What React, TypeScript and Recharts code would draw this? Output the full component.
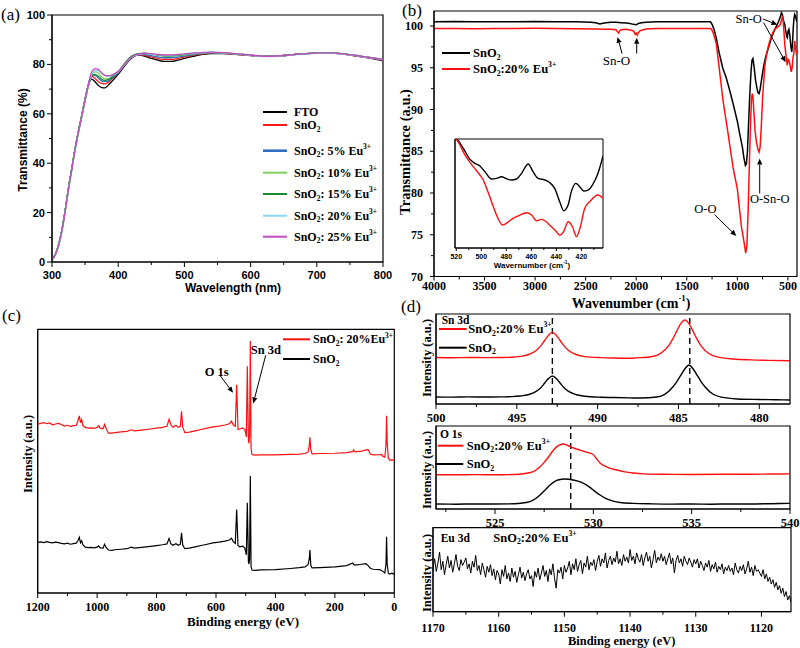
import React from 'react';
import { LineChart, Line, XAxis, YAxis, ReferenceLine, ReferenceDot, ReferenceArea } from 'recharts';

const SERIF = '"Liberation Serif","Times New Roman",serif';
const SANS = '"Liberation Sans",Arial,sans-serif';

// ---------------- (a) UV-vis transmittance ----------------
const aWavelength = [300,305,310,315,320,325,330,335,340,345,350,355,360,365,370,375,380,385,390,395,400,410,420,430,440,450,460,470,480,490,500,520,540,560,580,600,620,640,660,680,700,720,740,760,780,800];
const aFTO = [1,3,7,13,21,30,38,46,53,59,65.5,71.5,74,73,71.5,70.6,70.5,71.6,73,74.5,76,79.5,82.5,83.8,83.4,82.4,81.7,81.2,81.2,81.7,82.4,83.7,84.4,84.4,84,83.6,83.3,83.4,83.8,84.3,84.6,84.6,84.2,83.4,82.5,81.5];
const aSnO2 = [1,3,7,13,21,30,38,46,53,59.5,66,72,75.2,74.3,73,72.3,72.1,72.8,74,75.2,76.5,80,82.8,83.9,83.7,83,82.4,82,82,82.4,83,84,84.6,84.5,84.1,83.7,83.3,83.4,83.8,84.3,84.6,84.6,84.2,83.4,82.6,81.6];
const aEu5 = [1,3,7,13,21,30,38,46,53,59.5,66,72,75.8,75.5,74.5,73.3,73,73.3,74.3,75.4,76.6,80.2,83,84,84,83.5,83,82.7,82.7,83,83.4,84.2,84.7,84.6,84.2,83.7,83.3,83.4,83.8,84.3,84.6,84.7,84.3,83.5,82.7,81.8];
const aEu10 = [1,3,7,13,21,30,38,46,53,59.5,66,71.5,76,77,76.5,75,74.2,74.2,75,76,77,80.5,83.2,84.3,84.5,84.2,83.7,83.4,83.4,83.6,83.9,84.5,84.9,84.7,84.2,83.7,83.3,83.4,83.8,84.3,84.6,84.7,84.3,83.6,82.8,82];
const aEu15 = [1,3,7,13,21,30,38,46,53,59.5,66,71.8,75.5,76,75.2,74,73.5,73.8,74.8,76,77,80.5,83.3,84.4,84.6,84.3,83.8,83.5,83.5,83.7,84,84.6,84.9,84.7,84.2,83.7,83.3,83.4,83.8,84.3,84.6,84.7,84.3,83.6,82.8,82];
const aEu20 = [0.8,2.8,6.8,12.5,20.5,29.5,37.5,45.5,52.5,59,65.5,71.5,76,77.5,77.5,76.3,75.5,75.3,75.6,76.2,77,80,82.8,84,84.4,84.2,83.9,83.7,83.7,83.9,84.2,84.6,84.9,84.7,84.2,83.7,83.2,83.3,83.7,84.2,84.5,84.6,84.2,83.5,82.7,81.9];
const aEu25 = [0.8,2.8,6.8,12.5,20.5,29.5,37.5,45.5,52.5,59,65.5,71.5,77,78.3,78,76.6,75.6,75.4,75.7,76.3,77.2,80.3,83,84.2,84.5,84.4,84,83.8,83.8,84,84.3,84.7,85,84.8,84.3,83.8,83.3,83.4,83.8,84.3,84.6,84.7,84.3,83.6,82.8,82];
const aXTicks = [300,350,400,450,500,550,600,650,700,750,800];
const aXMajor = [300,400,500,600,700,800];
const aYTicks = [0,10,20,30,40,50,60,70,80,90,100];
const aYMajor = [0,20,40,60,80,100];

// ---------------- (b) FTIR ----------------
const bBlackX = [4000,3800,3600,3400,3200,3000,2800,2600,2450,2400,2360,2340,2300,2250,2200,2150,2100,2060,2030,2000,1980,1950,1900,1800,1600,1400,1300,1265,1250,1230,1207,1180,1145,1110,1076,1040,1000,977,950,935,920,910,900,890,878,865,855,846,835,820,805,795,785,775,760,740,720,700,680,660,640,613,590,575,564,555,545,531,520,510,505,498,490,480,470,462,455,447,440,433,425,418,411];
const bBlackT = [100.5,100.55,100.5,100.5,100.5,100.55,100.5,100.5,100.45,100.4,100.25,100.3,100.4,100.45,100.45,100.4,100.35,100.3,100.2,100.15,100.3,100.4,100.45,100.5,100.5,100.5,100.5,100.5,100.2,99.6,98.5,96.8,95.0,93.8,92.3,90.6,88.6,87.1,85.5,84.2,83.3,83.5,85,88,91.5,94.5,95.9,96.1,95.2,93.5,92.5,92,91.9,92.4,93.6,95.2,96.3,97.1,97.9,98.7,99.3,100,100.6,101.1,101.6,101.4,100.7,100.2,99.3,98.7,98.6,99.4,99.6,98.8,97.5,96.9,97.8,99.8,100.9,101.4,101.2,100.8,100.5];
const bRedX = [4000,3800,3600,3400,3200,3000,2800,2600,2400,2300,2250,2200,2185,2175,2165,2150,2100,2050,2025,2010,2000,1990,1980,1960,1930,1900,1800,1600,1400,1300,1265,1250,1230,1207,1175,1142,1100,1043,1000,960,935,917,905,893,880,868,860,852,846,838,825,810,795,785,775,765,750,729,710,680,650,630,600,580,565,555,548,540,531,520,507,498,490,480,467,458,450,442,433,425,418,411];
const bRedT = [99.7,99.7,99.68,99.7,99.7,99.72,99.7,99.68,99.65,99.6,99.6,99.55,99.3,99.15,99.4,99.55,99.6,99.5,99.4,99.0,99.15,98.9,99.2,99.45,99.55,99.65,99.7,99.7,99.7,99.7,99.7,99.5,98.9,97.8,94.5,91.1,87.8,83.1,80.5,76.0,74.2,72.8,73.8,78,84,89,91.3,91.9,91.6,90,87.5,86,85.2,84.9,85.5,87.5,91.5,95.1,96.7,98.2,99.2,99.6,99.9,100.1,100.6,101.1,100.8,99.5,97.8,96.6,95.3,96,95.9,95.4,94.5,95,96.2,96.7,98.2,97.4,96.8,97];
const bXTicks = [4000,3750,3500,3250,3000,2750,2500,2250,2000,1750,1500,1250,1000,750,500];
const bXMajor = [4000,3500,3000,2500,2000,1500,1000,500];
const bYTicks = [70,72.5,75,77.5,80,82.5,85,87.5,90,92.5,95,97.5,100];
const bYMajor = [70,75,80,85,90,95,100];

// inset of (b)
const insBlackX = [521,519.7,514.4,509.0,505.1,501.1,497.1,491.8,487.8,483.8,479.8,475.8,471.8,467.8,462.5,458.6,454.6,449.2,445.2,441.3,437.3,434.1,430.6,428.0,424.5,421.3,418.1,414.7,410.7,406.7,402.7];
const insBlackT = [100,99.7,91.4,81.3,77.7,75.2,70.0,63.3,63.9,65.4,63.6,62.4,63.3,68.5,77.1,70.0,63.9,62.4,59.9,54.7,42.5,34.2,39.4,51.7,59.3,56.3,52.3,53.2,58.7,68.5,84.4];
const insRedX = [521,519.7,513.0,506.4,501.1,498.4,495.2,491.8,487.8,482.9,479.3,475.8,470.5,463.8,459.8,455.9,451.9,449.2,443.9,439.9,437.3,434.1,430.6,427.1,423.9,420.8,417.3,413.3,406.7,402.7];
const insRedT = [100,99.1,85.3,74.6,67.0,62.4,53.2,42.5,30.3,21.1,23.2,26.3,29.4,32.4,30.3,25.0,26.3,25.0,19.5,15.0,11.9,15.0,24.1,19.5,10.4,19.5,36.4,42.5,48.6,45.6];
const insXTicks = [520,510,500,490,480,470,460,450,440,430,420,410];
const insXMajor = [520,500,480,460,440,420];

// ---------------- (c) XPS survey ----------------
const cBE = [1200,1190,1180,1170,1160,1150,1140,1130,1120,1110,1100,1090,1080,1070,1064,1060,1056,1052,1048,1040,1030,1020,1010,1000,995,990,980,975,970,962,950,940,920,900,885,875,850,820,800,780,765,758,752,745,735,727,720,716,712,705,690,670,650,630,610,590,570,555,548,542,535,530.5,526,520,510,503,498,494.6,491,489,487,484.5,482,479,470,450,400,350,320,300,290,286,284,281,277,250,200,160,140,137,132,110,95,88,80,70,50,43,38,32,28,26,24,20,15,8,0];
const cEu20 = [64,64.3,64.6,64.2,64.5,63.8,64.1,64.3,63.9,63.3,63.6,63.2,63.5,63.6,65.5,67.2,64.5,65.8,63.5,62.8,62.5,62.6,62.4,62.8,63.4,62.5,62.3,63.9,62.5,60.6,60.6,60.8,61.1,61.3,61.9,61.5,61.8,62.2,62.5,62.8,63.2,65.9,63.8,62.8,63.6,62.8,63.2,68.9,63,60.8,61,61.5,62,62.5,63,63.3,63.7,64.2,65.2,63.8,63.2,79,62,62.2,62.6,62,59.2,86,58,56.7,60,95.6,55,52.5,52.3,52.4,52.4,52.6,52.7,52.9,53.5,56,59,54.5,52.8,52.9,53,53.2,53.6,54.3,53.5,53.8,54.3,54.4,52.6,52.4,52.5,52.6,51.8,51.5,56,67.2,57,51,50.4,50.5,50.3];
const cSnO2 = [19.2,19.4,19.1,19.5,19.2,19,19.3,19.1,18.8,18.6,18.9,18.5,18.7,18.9,20,21.1,19,19.8,18.3,17.4,17.2,17.3,17.1,17.4,17.9,17.1,17,18.5,17.3,16.3,16.2,16.4,16.6,16.8,17.4,17,17.3,17.7,18,18.3,18.6,20.7,18.7,18.1,18.7,18.1,18.5,22.8,18.2,16.8,17,17.5,18,18.5,19,19.3,19.7,20.1,20.8,19.5,18.8,31.7,18,17.5,17.8,17,14.5,34.2,12,11,13,44.4,10,8.7,8.6,8.8,8.9,9.3,9.6,9.9,10.8,13,16.3,10.5,9.5,9.6,9.9,10.4,11.4,10.8,10.6,10.9,11.1,10.4,9.3,9,8.9,8.5,8.2,7.6,11,21.3,11,7.5,7.2,7.5,7];
const cXTicks = [1200,1100,1000,900,800,700,600,500,400,300,200,100,0];
const cXMajor = [1200,1000,800,600,400,200,0];

// ---------------- (d) high-resolution XPS ----------------
const snRedBE = [500,499,498,497,496,495.3,494.8,494.3,493.8,493.55,493.3,493.05,492.8,492.55,492.3,492.05,491.8,491.3,490.8,489.8,489,488,487.6,486.6,486.1,485.6,485.35,485.1,484.85,484.6,484.35,484.1,483.85,483.6,483.1,482.6,481.6,480.5,479.5,478.1];
const snRedI = [51.6,51.4,51.7,51.5,51.6,51.9,52.9,54.7,59.5,64,70,76.2,79.6,76.2,70,64,59.5,54.7,52.7,51.5,51.1,50.9,51.3,52.8,56.3,64.8,72.3,81.3,89.5,93.3,89.3,81,72,64.5,55.8,52.3,50,49,48.5,48];
const snBlackBE = [500,499,498,497,496,495.3,494.8,494.3,493.8,493.55,493.3,493.05,492.8,492.55,492.3,492.05,491.8,491.3,490.8,489.8,489,488,487.35,486.35,485.85,485.35,485.1,484.85,484.6,484.35,484.1,483.85,483.6,483.35,482.85,482.35,481.35,480,479,478.1];
const snBlackI = [7.8,7.6,7.9,7.7,7.9,8.2,8.9,10.3,14,17.5,22.7,28.2,31.1,28.2,22.7,17.5,14,10.3,8.6,7.5,7.2,6.8,6.6,7.8,10.8,18.9,24.9,32.2,39.2,43.3,39.2,32.2,24.9,18.9,10.8,7.6,5.6,5,4.7,4.4];
const snPeaks = [492.8, 484.3];
const snXTicks = [500,497.5,495,492.5,490,487.5,485,482.5,480];
const snXMajor = [500,495,490,485,480];

const oRedBE = [522,523,524,525,526,526.5,526.95,527.2,527.46,527.7,527.96,528.2,528.47,528.7,529,529.32,529.65,529.97,530.15,530.34,530.7,531.19,531.6,532.03,532.6,533.5,535,536.5,538,539,540];
const oRedI = [41.3,41.2,41.4,41.2,41.6,42.8,45,49,55,62,70.5,76,78.3,76.5,73.5,71,68.5,66,61,55.5,50.5,47,44.8,43.4,42.3,41.8,41.6,41.8,41.9,42.1,42.3];
const oBlackBE = [522,523,524,525,526,526.4,526.78,527.03,527.29,527.55,527.8,528.2,528.56,528.98,529.4,529.83,530.1,530.34,530.6,530.85,531.36,532.03,533,534,535,536,537,538,539,540];
const oBlackI = [6,5.8,6.1,6,6.3,7.2,8.8,12,16.9,23,28.9,34.9,36.1,34.9,32.1,26.1,21,16.9,13.2,10.8,7.9,6.8,6.2,5.9,6,5.8,6.1,6,6.4,6.8];
const oPeak = 528.85;
const oXTicks = [522.5,525,527.5,530,532.5,535,537.5,540];
const oXMajor = [525,530,535,540];

const euStartBE = 1170;
const euStepBE = 0.25;
const euIntensity = [
  52,63,48,58,71,50,60,44,56,66,52,61,47,57,68,54,49,62,55,59,
  64,51,57,46,60,53,67,49,55,44,58,50,41,54,47,56,43,51,38,49,
  45,33,50,42,55,39,46,36,52,41,48,35,44,53,40,47,37,45,50,39,
  43,30,48,41,52,38,46,55,42,49,36,51,44,57,40,28,50,46,53,39,
  55,47,52,60,44,57,50,63,48,56,61,45,58,53,66,50,59,55,62,49,
  60,67,54,63,58,70,52,61,66,56,64,59,72,57,63,55,68,60,65,58,
  74,61,66,57,70,63,59,68,55,64,71,60,66,52,62,73,58,65,61,69,
  60,66,56,63,70,57,64,46,61,67,58,63,54,66,60,56,64,59,53,62,
  57,63,52,60,55,49,58,53,61,48,56,51,59,47,54,50,57,45,53,49,
  55,48,52,44,58,50,46,54,49,56,45,51,60,47,53,43,55,48,50,46,
  42,50,39,45,36,41,33,38,29,35,26,31,22,28,18,24,14,19,11,
];
const euXTicks = [1170,1165,1160,1155,1150,1145,1140,1135,1130,1125,1120];
const euXMajor = [1170,1160,1150,1140,1130,1120];

// ---------------- helpers ----------------
type Part = [string, number];
const zip = (xs: number[], ys: number[]) => xs.map((x, i) => ({ x, y: ys[i] }));
const YW = 30; // y-axis band width
const XH = 20; // x-axis band height

function Rich({ x, y, parts, fs, ff = SERIF, fw = 'bold', anchor = 'start', rotate }: any) {
  let cur = 0;
  const spans = (parts as Part[]).map(([t, k], i) => {
    const off = k === 1 ? fs * 0.3 : k === 2 ? -fs * 0.38 : 0;
    const dy = off - cur;
    cur = off;
    return (
      <tspan key={i} dy={dy} fontSize={k ? fs * 0.62 : fs}>{t}</tspan>
    );
  });
  return (
    <text x={x} y={y} fontSize={fs} fontFamily={ff} fontWeight={fw} textAnchor={anchor}
      dominantBaseline="central" fill="#000" style={{ fontFamily: ff }}
      transform={rotate ? `rotate(${rotate} ${x} ${y})` : undefined}>{spans}</text>
  );
}

const sn2: Part[] = [['SnO', 0], ['2', 1]];
const snEu = (mid: string): Part[] => [['SnO', 0], ['2', 1], [mid, 0], ['3+', 2]];

function xTick(majors: number[], o: any) {
  return (p: any) => {
    const v = Number(p.payload.value);
    const major = majors.some((m) => Math.abs(m - v) < 1e-6);
    const len = major ? (o.len ?? 5) : (o.mlen ?? 3);
    return (
      <g>
        <line x1={p.x} x2={p.x} y1={p.y} y2={p.y + len} stroke="#000" strokeWidth={1} />
        {major && (
          <text x={p.x} y={p.y + o.off} textAnchor="middle" dominantBaseline="central"
            fontSize={o.fs} fontFamily={o.ff} fontWeight="bold" fill="#000" style={{ fontFamily: o.ff }}>{String(v)}</text>
        )}
      </g>
    );
  };
}
function yTick(majors: number[], o: any) {
  return (p: any) => {
    const v = Number(p.payload.value);
    const major = majors.some((m) => Math.abs(m - v) < 1e-6);
    const len = major ? (o.len ?? 5) : (o.mlen ?? 3);
    return (
      <g>
        <line x1={p.x - len} x2={p.x} y1={p.y} y2={p.y} stroke="#000" strokeWidth={1} />
        {major && (
          <text x={p.x - o.off} y={p.y} textAnchor="end" dominantBaseline="central"
            fontSize={o.fs} fontFamily={o.ff} fontWeight="bold" fill="#000" style={{ fontFamily: o.ff }}>{String(v)}</text>
        )}
      </g>
    );
  };
}

const ArrowShape = (p: any) => {
  const { x1, y1, x2, y2 } = p;
  const a = Math.atan2(y2 - y1, x2 - x1);
  const L = 6, W = 2.6;
  const bx = x2 - L * Math.cos(a), by = y2 - L * Math.sin(a);
  const pts = `${x2},${y2} ${bx - W * Math.sin(a)},${by + W * Math.cos(a)} ${bx + W * Math.sin(a)},${by - W * Math.cos(a)}`;
  return (
    <g>
      <line x1={x1} y1={y1} x2={bx} y2={by} stroke="#000" strokeWidth={1} />
      <polygon points={pts} fill="#000" />
    </g>
  );
};
const textShape = (label: string, fs: number, fw: any = 'normal', anchor = 'middle') => (p: any) => (
  <text x={p.cx} y={p.cy} fontSize={fs} fontFamily={SERIF} fontWeight={fw} textAnchor={anchor}
    dominantBaseline="central" fill="#000" style={{ fontFamily: SERIF }}>{label}</text>
);

const frameProps = { fill: 'none', fillOpacity: 0, stroke: '#000', strokeWidth: 1.2, ifOverflow: 'visible' as const };

const LegendRow = ({ x1, x2, y, color, tx, parts, fs, w = 2 }: any) => (
  <g>
    <line x1={x1} x2={x2} y1={y} y2={y} stroke={color} strokeWidth={w} />
    <Rich x={tx} y={y} parts={parts} fs={fs} />
  </g>
);

// ---------------- panels ----------------
const aData = aWavelength.map((x, i) => ({ x, fto: aFTO[i], sno2: aSnO2[i], eu5: aEu5[i], eu10: aEu10[i], eu15: aEu15[i], eu20: aEu20[i], eu25: aEu25[i] }));
const aSeries = [
  { key: 'fto', color: '#000000', label: [['FTO', 0]] as Part[], ly: 112, w: 2 },
  { key: 'sno2', color: '#ff1a1a', label: sn2, ly: 125, w: 2 },
  { key: 'eu5', color: '#2f6fbf', label: snEu(': 5% Eu'), ly: 150.7, w: 2.6 },
  { key: 'eu10', color: '#80d35c', label: snEu(': 10% Eu'), ly: 172.7, w: 2 },
  { key: 'eu15', color: '#1b8a32', label: snEu(': 15% Eu'), ly: 194, w: 2 },
  { key: 'eu20', color: '#8ad6ee', label: snEu(': 20% Eu'), ly: 215.7, w: 2 },
  { key: 'eu25', color: '#c04cc0', label: snEu(': 25% Eu'), ly: 236.7, w: 2 },
];

function PanelA() {
  return (
    <div style={{ position: 'absolute', left: 0, top: 0 }}>
      <LineChart width={400} height={300} data={aData} margin={{ top: 15, left: 52 - YW, right: 17, bottom: 38 - XH }}>
        <XAxis dataKey="x" type="number" domain={[300, 800]} allowDataOverflow ticks={aXTicks} interval={0}
          height={XH} tickSize={0} tickMargin={0} tickLine={false} axisLine={{ stroke: '#000' }}
          tick={xTick(aXMajor, { fs: 11, ff: SANS, off: 13 })} />
        <YAxis type="number" domain={[0, 100]} allowDataOverflow ticks={aYTicks} interval={0}
          width={YW} tickSize={0} tickMargin={0} tickLine={false} axisLine={{ stroke: '#000' }}
          tick={yTick(aYMajor, { fs: 11, ff: SANS, off: 7 })} />
        <ReferenceArea x1={300} x2={800} y1={0} y2={100} {...frameProps} />
        {aSeries.map((s) => (
          <Line key={s.key} dataKey={s.key} type="monotone" stroke={s.color} strokeWidth={1.3}
            dot={false} activeDot={false} isAnimationActive={false} />
        ))}
        {aSeries.map((s) => (
          <LegendRow key={'l' + s.key} x1={263} x2={287} y={s.ly} color={s.color} tx={294} parts={s.label} fs={12} w={s.w} />
        ))}
        <Rich x={233} y={288} parts={[['Wavelength (nm)', 0]]} fs={12} ff={SANS} anchor="middle" />
        <Rich x={22.5} y={140} parts={[['Transmittance (%)', 0]]} fs={12} ff={SANS} anchor="middle" rotate={-90} />
        <Rich x={1} y={14} parts={[['(a)', 0]]} fs={17} fw="normal" />
      </LineChart>
    </div>
  );
}

function PanelB() {
  return (
    <div style={{ position: 'absolute', left: 396, top: 0 }}>
      <LineChart width={404} height={320} margin={{ top: 11, left: 38 - YW, right: 3, bottom: 43.5 - XH }}>
        <XAxis dataKey="x" type="number" domain={[410, 4000]} reversed allowDataOverflow ticks={bXTicks} interval={0}
          height={XH} tickSize={0} tickMargin={0} tickLine={false} axisLine={{ stroke: '#000' }}
          tick={xTick(bXMajor, { fs: 12, ff: SERIF, off: 9.5, len: 4, mlen: 3 })} />
        <YAxis type="number" domain={[70, 101.8]} allowDataOverflow ticks={bYTicks} interval={0}
          width={YW} tickSize={0} tickMargin={0} tickLine={false} axisLine={{ stroke: '#000' }}
          tick={yTick(bYMajor, { fs: 12, ff: SERIF, off: 11, len: 4, mlen: 3 })} />
        <ReferenceArea x1={4000} x2={410} y1={70} y2={101.8} {...frameProps} />
        <Line data={zip(bBlackX, bBlackT)} dataKey="y" type="linear" stroke="#000" strokeWidth={1.5}
          dot={false} activeDot={false} isAnimationActive={false} />
        <Line data={zip(bRedX, bRedT)} dataKey="y" type="linear" stroke="#ff1010" strokeWidth={1.5}
          dot={false} activeDot={false} isAnimationActive={false} />
        <ReferenceDot x={2196} y={95.86} r={0} ifOverflow="visible" shape={textShape('Sn-O', 13)} />
        <ReferenceLine segment={[{ x: 2140, y: 96.7 }, { x: 2185, y: 98.7 }]} ifOverflow="visible" shape={ArrowShape} />
        <ReferenceLine segment={[{ x: 1995, y: 96.7 }, { x: 1995, y: 98.6 }]} ifOverflow="visible" shape={ArrowShape} />
        <ReferenceDot x={888} y={100.84} r={0} ifOverflow="visible" shape={textShape('Sn-O', 12.5)} />
        <ReferenceLine segment={[{ x: 746, y: 100.84 }, { x: 604, y: 100.16 }]} ifOverflow="visible" shape={ArrowShape} />
        <ReferenceLine segment={[{ x: 740, y: 100.4 }, { x: 522, y: 95.66 }]} ifOverflow="visible" shape={ArrowShape} />
        <ReferenceDot x={680} y={79.24} r={0} ifOverflow="visible" shape={textShape('O-Sn-O', 12.5)} />
        <ReferenceLine segment={[{ x: 779, y: 79.95 }, { x: 779, y: 84.13 }]} ifOverflow="visible" shape={ArrowShape} />
        <ReferenceDot x={1316} y={78.04} r={0} ifOverflow="visible" shape={textShape('O-O', 12.5)} />
        <ReferenceLine segment={[{ x: 1225, y: 77.4 }, { x: 1010, y: 74.86 }]} ifOverflow="visible" shape={ArrowShape} />
        <LegendRow x1={46} x2={74} y={53} color="#000" tx={77} parts={sn2} fs={12.5} />
        <LegendRow x1={46} x2={74} y={69} color="#ff1010" tx={77} parts={snEu(':20% Eu')} fs={12.5} />
        <Rich x={235} y={303} parts={[['Wavenumber (cm', 0], ['-1', 2], [')', 0]]} fs={14} anchor="middle" />
        <Rich x={9} y={152} parts={[['Transmittance (a.u.)', 0]]} fs={14.5} anchor="middle" rotate={-90} />
        <Rich x={6} y={10} parts={[['(b)', 0]]} fs={17} fw="normal" />
        <Rich x={5} y={306} parts={[['(d)', 0]]} fs={17} fw="normal" />
      </LineChart>
    </div>
  );
}

function InsetB() {
  return (
    <div style={{ position: 'absolute', left: 440, top: 128 }}>
      <LineChart width={185} height={150} margin={{ top: 11, left: 5, right: 22, bottom: 30 - XH }}>
        <XAxis dataKey="x" type="number" domain={[402.7, 521]} reversed allowDataOverflow ticks={insXTicks} interval={0}
          height={XH} tickSize={0} tickMargin={0} tickLine={false} axisLine={{ stroke: '#000' }}
          tick={xTick(insXMajor, { fs: 7, ff: SANS, off: 8.7, len: 3, mlen: 2 })} />
        <YAxis type="number" domain={[0, 100]} allowDataOverflow width={10} tick={false} tickLine={false} axisLine={{ stroke: '#000' }} />
        <ReferenceArea x1={521} x2={402.7} y1={0} y2={100} {...frameProps} strokeWidth={1} />
        <Line data={zip(insBlackX, insBlackT)} dataKey="y" type="monotone" stroke="#000" strokeWidth={1.4}
          dot={false} activeDot={false} isAnimationActive={false} />
        <Line data={zip(insRedX, insRedT)} dataKey="y" type="monotone" stroke="#ff1010" strokeWidth={1.4}
          dot={false} activeDot={false} isAnimationActive={false} />
        <Rich x={92} y={137} parts={[['Wavernumber (cm', 0], ['-1', 2], [')', 0]]} fs={8} ff={SANS} anchor="middle" />
      </LineChart>
    </div>
  );
}

function PanelC() {
  return (
    <div style={{ position: 'absolute', left: 0, top: 300 }}>
      <LineChart width={400} height={348} margin={{ top: 29.3, left: 37.7 - YW, right: 5.7, bottom: 55 - XH }}>
        <XAxis dataKey="x" type="number" domain={[0, 1200]} reversed allowDataOverflow ticks={cXTicks} interval={0}
          height={XH} tickSize={0} tickMargin={0} tickLine={false} axisLine={{ stroke: '#000' }}
          tick={xTick(cXMajor, { fs: 12, ff: SERIF, off: 14 })} />
        <YAxis type="number" domain={[0, 100]} allowDataOverflow width={YW} tick={false} tickLine={false} axisLine={{ stroke: '#000' }} />
        <ReferenceArea x1={1200} x2={0} y1={0} y2={100} {...frameProps} />
        <Line data={zip(cBE, cEu20)} dataKey="y" type="linear" stroke="#ff1010" strokeWidth={1.2}
          dot={false} activeDot={false} isAnimationActive={false} />
        <Line data={zip(cBE, cSnO2)} dataKey="y" type="linear" stroke="#000" strokeWidth={1.2}
          dot={false} activeDot={false} isAnimationActive={false} />
        <ReferenceDot x={597.6} y={83.8} r={0} ifOverflow="visible" shape={textShape('O 1s', 12.5, 'bold')} />
        <ReferenceLine segment={[{ x: 587, y: 82.6 }, { x: 542.6, y: 75.9 }]} ifOverflow="visible" shape={ArrowShape} />
        <ReferenceDot x={432.4} y={92.0} r={0} ifOverflow="visible" shape={textShape('Sn 3d', 12.5, 'bold')} />
        <ReferenceLine segment={[{ x: 432.7, y: 90.15 }, { x: 474.5, y: 71.9 }]} ifOverflow="visible" shape={ArrowShape} />
        <LegendRow x1={283} x2={310} y={39.3} color="#ff1010" tx={313} parts={snEu(': 20%Eu')} fs={12} />
        <LegendRow x1={283} x2={310} y={59} color="#000" tx={313} parts={sn2} fs={12} />
        <Rich x={243} y={321} parts={[['Binding energy (eV)', 0]]} fs={13} anchor="middle" />
        <Rich x={28} y={154} parts={[['Intensity (a.u.)', 0]]} fs={12.5} anchor="middle" rotate={-90} />
        <Rich x={2} y={15} parts={[['(c)', 0]]} fs={17} fw="normal" />
      </LineChart>
    </div>
  );
}

function PanelD1() {
  return (
    <div style={{ position: 'absolute', left: 400, top: 300 }}>
      <LineChart width={400} height={128} margin={{ top: 14, left: 36 - YW, right: 10, bottom: 24 - XH }}>
        <XAxis dataKey="x" type="number" domain={[478.1, 500]} reversed allowDataOverflow ticks={snXTicks} interval={0}
          height={XH} tickSize={0} tickMargin={0} tickLine={false} axisLine={{ stroke: '#000' }}
          tick={xTick(snXMajor, { fs: 12.5, ff: SERIF, off: 14.3 })} />
        <YAxis type="number" domain={[0, 100]} allowDataOverflow width={YW} tick={false} tickLine={false} axisLine={{ stroke: '#000' }} />
        <ReferenceArea x1={500} x2={478.1} y1={0} y2={100} {...frameProps} />
        {snPeaks.map((p) => (
          <ReferenceLine key={p} x={p} stroke="#000" strokeWidth={1.4} strokeDasharray="6 4" />
        ))}
        <Line data={zip(snRedBE, snRedI)} dataKey="y" type="monotone" stroke="#ff1010" strokeWidth={1.4}
          dot={false} activeDot={false} isAnimationActive={false} />
        <Line data={zip(snBlackBE, snBlackI)} dataKey="y" type="monotone" stroke="#000" strokeWidth={1.4}
          dot={false} activeDot={false} isAnimationActive={false} />
        <Rich x={41.7} y={20} parts={[['Sn 3d', 0]]} fs={11.5} />
        <LegendRow x1={39} x2={66.7} y={29} color="#ff1010" tx={68.3} parts={snEu(':20% Eu')} fs={12.5} />
        <LegendRow x1={39} x2={66.7} y={47.7} color="#000" tx={68.3} parts={sn2} fs={12.5} />
        <Rich x={26.7} y={58} parts={[['Intensity (a.u.)', 0]]} fs={12.5} anchor="middle" rotate={-90} />
      </LineChart>
    </div>
  );
}

function PanelD2() {
  return (
    <div style={{ position: 'absolute', left: 400, top: 420 }}>
      <LineChart width={400} height={110} margin={{ top: 6, left: 36 - YW, right: 10, bottom: 21 - XH }}>
        <XAxis dataKey="x" type="number" domain={[522, 540]} allowDataOverflow ticks={oXTicks} interval={0}
          height={XH} tickSize={0} tickMargin={0} tickLine={false} axisLine={{ stroke: '#000' }}
          tick={xTick(oXMajor, { fs: 12.5, ff: SERIF, off: 14 })} />
        <YAxis type="number" domain={[0, 100]} allowDataOverflow width={YW} tick={false} tickLine={false} axisLine={{ stroke: '#000' }} />
        <ReferenceArea x1={522} x2={540} y1={0} y2={100} {...frameProps} />
        <ReferenceLine x={oPeak} stroke="#000" strokeWidth={1.4} strokeDasharray="6 4" />
        <Line data={zip(oRedBE, oRedI)} dataKey="y" type="monotone" stroke="#ff1010" strokeWidth={1.4}
          dot={false} activeDot={false} isAnimationActive={false} />
        <Line data={zip(oBlackBE, oBlackI)} dataKey="y" type="monotone" stroke="#000" strokeWidth={1.4}
          dot={false} activeDot={false} isAnimationActive={false} />
        <Rich x={40} y={14.3} parts={[['O 1s', 0]]} fs={11.5} />
        <LegendRow x1={37.7} x2={63.3} y={25.7} color="#ff1010" tx={66.7} parts={snEu(':20% Eu')} fs={12.5} />
        <LegendRow x1={35} x2={63.3} y={44} color="#000" tx={66.7} parts={sn2} fs={12.5} />
        <Rich x={26.7} y={50} parts={[['Intensity (a.u.)', 0]]} fs={12.5} anchor="middle" rotate={-90} />
      </LineChart>
    </div>
  );
}

const euData = euIntensity.map((y, i) => ({ x: euStartBE - euStepBE * i, y }));

function PanelD3() {
  return (
    <div style={{ position: 'absolute', left: 400, top: 520 }}>
      <LineChart width={400} height={128} margin={{ top: 7.7, left: 33 - YW, right: 9, bottom: 36.3 - XH }}>
        <XAxis dataKey="x" type="number" domain={[1115.5, 1170]} reversed allowDataOverflow ticks={euXTicks} interval={0}
          height={XH} tickSize={0} tickMargin={0} tickLine={false} axisLine={{ stroke: '#000' }}
          tick={xTick(euXMajor, { fs: 12, ff: SERIF, off: 15.8 })} />
        <YAxis type="number" domain={[0, 100]} allowDataOverflow width={YW} tick={false} tickLine={false} axisLine={{ stroke: '#000' }} />
        <ReferenceArea x1={1170} x2={1115.5} y1={0} y2={100} {...frameProps} />
        <Line data={euData} dataKey="y" type="linear" stroke="#000" strokeWidth={1}
          dot={false} activeDot={false} isAnimationActive={false} />
        <Rich x={40.7} y={17.7} parts={[['Eu 3d', 0]]} fs={11.5} />
        <Rich x={93.3} y={17.7} parts={snEu(':20% Eu')} fs={12.5} />
        <Rich x={221.7} y={121} parts={[['Binding energy (eV)', 0]]} fs={12.5} anchor="middle" />
        <Rich x={26.7} y={53} parts={[['Intensity (a.u.)', 0]]} fs={12.5} anchor="middle" rotate={-90} />
      </LineChart>
    </div>
  );
}

export default function App() {
  return (
    <div style={{ position: 'relative', width: 800, height: 648, background: '#fff', overflow: 'hidden' }}>
      <style>{'body{margin:0}'}</style>
      <PanelA />
      <PanelC />
      <PanelD1 />
      <PanelD2 />
      <PanelD3 />
      <PanelB />
      <InsetB />
    </div>
  );
}
